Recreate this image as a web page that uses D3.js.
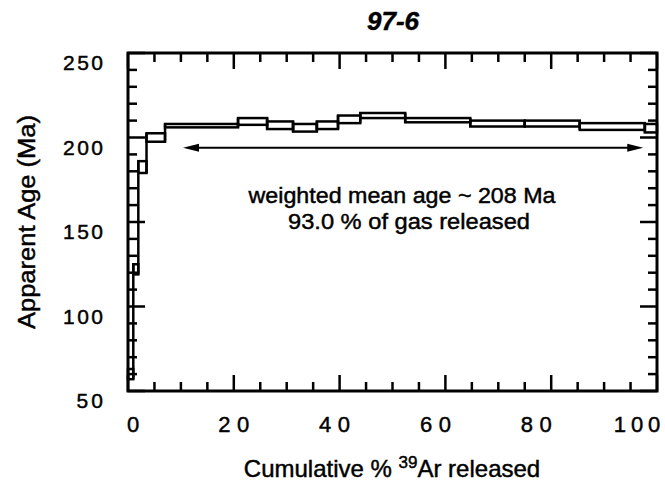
<!DOCTYPE html>
<html>
<head>
<meta charset="utf-8">
<script src="https://cdn.jsdelivr.net/npm/d3@7"></script>
<style>
  body { margin: 0; background: #fff; }
  text { font-family: "Liberation Sans", Arial, sans-serif; fill: #000; stroke: #000; stroke-width: 0.45px; }
</style>
</head>
<body>
<script>
// age spectrum steps: cumulative % 39Ar at start/end, age box low/high (Ma)
const stepStart = [0, 1.0, 1.95, 3.5, 7.0, 20.8, 26.3, 31.2, 35.7, 39.7, 43.9, 52.4, 64.7, 75.0, 85.4, 97.7];
const stepEnd   = [1.0, 1.95, 3.5, 7.0, 20.8, 26.3, 31.2, 35.7, 39.7, 43.9, 52.4, 64.7, 75.0, 85.4, 97.7, 100];
const ageLow    = [57, 119, 179, 197.5, 206, 207.5, 205, 203.5, 205, 208.5, 211.5, 209, 206.5, 206.5, 204.5, 203];
const ageHigh   = [63, 125, 186, 202.5, 208, 211.5, 209.5, 208, 209.5, 213, 214.5, 211.5, 210, 210, 208.5, 208];

// plateau arrow
const plateau = [10.4, 97.4];
const arrowAge = 194;

const xTicks = [0, 20, 40, 60, 80, 100];
const yTicks = [50, 100, 150, 200, 250];

const width = 665;
const height = 489;

const svg = d3.select("body")
  .append("svg")
  .attr("width", width)
  .attr("height", height);

const x = d3.scaleLinear().domain([0, 100]).range([128, 657]);
const y = d3.scaleLinear().domain([50, 250]).range([391, 53]);

const steps = stepStart.map((s, i) => ({ s: s, e: stepEnd[i], lo: ageLow[i], hi: ageHigh[i] }));

// ticks inside frame, all four sides
const g = svg.append("g").attr("stroke", "#000").attr("stroke-width", 2.5);

d3.range(0, 101, 5).forEach(v => {
  const len = v % 20 === 0 ? 16 : 9;
  g.append("line").attr("x1", x(v)).attr("x2", x(v)).attr("y1", y(50)).attr("y2", y(50) - len);
  g.append("line").attr("x1", x(v)).attr("x2", x(v)).attr("y1", y(250)).attr("y2", y(250) + len);
});
d3.range(50, 251, 10).forEach(v => {
  const len = v % 50 === 0 ? 17 : 9;
  g.append("line").attr("x1", x(0)).attr("x2", x(0) + len).attr("y1", y(v)).attr("y2", y(v));
  g.append("line").attr("x1", x(100)).attr("x2", x(100) - len).attr("y1", y(v)).attr("y2", y(v));
});

// frame
svg.append("rect")
  .attr("x", x(0)).attr("y", y(250))
  .attr("width", x(100) - x(0)).attr("height", y(50) - y(250))
  .attr("fill", "none").attr("stroke", "#000").attr("stroke-width", 3);

// spectrum boxes
svg.selectAll("rect.step")
  .data(steps)
  .enter()
  .append("rect")
  .attr("class", "step")
  .attr("x", d => x(d.s))
  .attr("y", d => y(d.hi))
  .attr("width", d => x(d.e) - x(d.s))
  .attr("height", d => y(d.lo) - y(d.hi))
  .attr("fill", "none")
  .attr("stroke", "#000")
  .attr("stroke-width", 2.5);

// connectors between steps
svg.selectAll("line.link")
  .data(steps.slice(1))
  .enter()
  .append("line")
  .attr("x1", d => x(d.s)).attr("x2", d => x(d.s))
  .attr("y1", (d, i) => y(Math.min(d.lo, steps[i].lo)))
  .attr("y2", (d, i) => y(Math.max(d.hi, steps[i].hi)))
  .attr("stroke", "#000")
  .attr("stroke-width", 2.5);

// plateau arrow
const ay = y(arrowAge);
const x0 = x(plateau[0]), x1 = x(plateau[1]);
svg.append("line")
  .attr("x1", x0 + 10).attr("x2", x1 - 10)
  .attr("y1", ay).attr("y2", ay)
  .attr("stroke", "#000").attr("stroke-width", 2);
svg.append("path")
  .attr("d", `M${x0},${ay} L${x0 + 16},${ay - 4} L${x0 + 16},${ay + 4} Z`)
  .attr("fill", "#000");
svg.append("path")
  .attr("d", `M${x1},${ay} L${x1 - 16},${ay - 4} L${x1 - 16},${ay + 4} Z`)
  .attr("fill", "#000");

// tick labels
svg.selectAll("text.xl")
  .data(xTicks)
  .enter()
  .append("text")
  .attr("x", d => x(d) + 5 - d * 0.25)
  .attr("y", 432)
  .attr("text-anchor", "middle")
  .attr("font-size", 22)
  .attr("textLength", d => String(d).length === 1 ? null : String(d).length * 15.5)
  .attr("lengthAdjust", "spacing")
  .text(d => d);

svg.selectAll("text.yl")
  .data(yTicks)
  .enter()
  .append("text")
  .attr("x", 103)
  .attr("y", d => y(d) + 17)
  .attr("text-anchor", "end")
  .attr("font-size", 21)
  .attr("textLength", d => String(d).length * 13.3)
  .attr("lengthAdjust", "spacing")
  .text(d => d);

// titles
svg.append("text")
  .attr("x", 393).attr("y", 30)
  .attr("text-anchor", "middle")
  .attr("font-size", 26)
  .attr("font-weight", "bold")
  .attr("font-style", "italic")
  .attr("stroke-width", 0)
  .text("97-6");

svg.append("text")
  .attr("transform", "translate(35,222) rotate(-90)")
  .attr("text-anchor", "middle")
  .attr("font-size", 23)
  .attr("textLength", 214)
  .attr("lengthAdjust", "spacingAndGlyphs")
  .text("Apparent Age (Ma)");

const xt = svg.append("text")
  .attr("x", 392).attr("y", 477)
  .attr("text-anchor", "middle")
  .attr("font-size", 24);
xt.append("tspan").text("Cumulative % ");
xt.append("tspan").attr("font-size", 17).attr("dy", -9).text("39");
xt.append("tspan").attr("dy", 9).text("Ar released");

svg.append("text")
  .attr("x", 402).attr("y", 203)
  .attr("text-anchor", "middle")
  .attr("font-size", 22)
  .attr("textLength", 307)
  .attr("lengthAdjust", "spacingAndGlyphs")
  .text("weighted mean age ~ 208 Ma");

svg.append("text")
  .attr("x", 409).attr("y", 229)
  .attr("text-anchor", "middle")
  .attr("font-size", 22)
  .attr("textLength", 242)
  .attr("lengthAdjust", "spacingAndGlyphs")
  .text("93.0 % of gas released");
</script>
</body>
</html>
